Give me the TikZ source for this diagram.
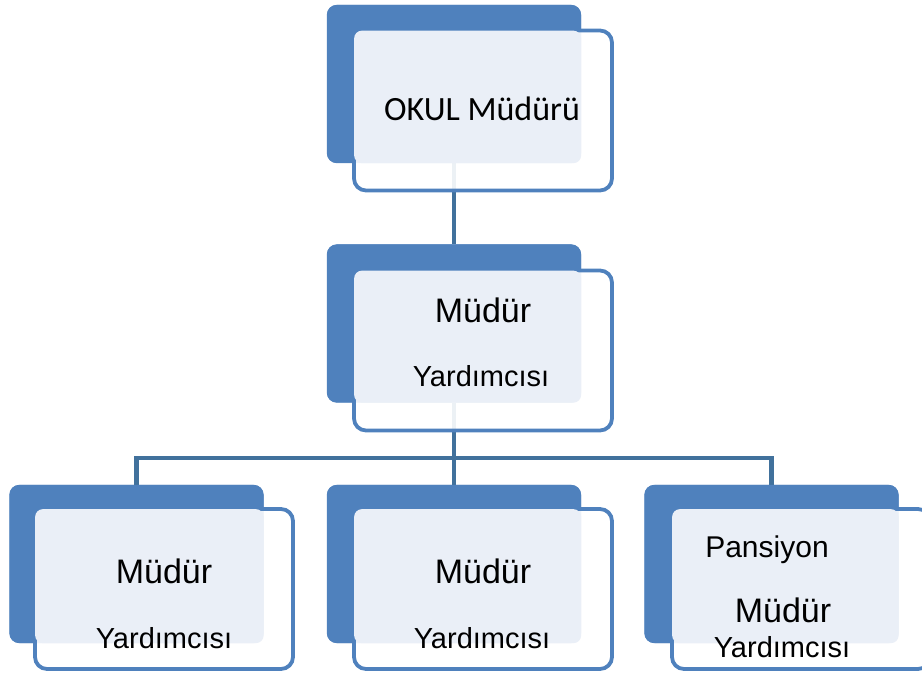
\documentclass[tikz,border=0pt]{standalone}
\usepackage{fontspec}
\setmainfont{Liberation Sans}
\newfontfamily\topfont{Carlito}
\usetikzlibrary{positioning,calc}
\definecolor{boxblue}{HTML}{4F81BD}
\definecolor{linkblue}{HTML}{41719C}
\definecolor{paleblue}{HTML}{EAEFF7}

\begin{document}
\begin{tikzpicture}[x=1pt,y=1pt,
  backbox/.style={fill=boxblue, rounded corners=10pt, minimum width=254pt, minimum height=158pt, inner sep=0pt},
  frontbox/.style={draw=boxblue, line width=3.8pt, fill=white, fill opacity=0.9, rounded corners=12pt, minimum width=258pt, minimum height=160pt, inner sep=0pt},
  link/.style={draw=linkblue, line width=4.5pt},
  boxtext/.style={anchor=base, inner sep=0pt, font=\fontsize{29}{34}\selectfont},
  bigtext/.style={boxtext, font=\fontsize{34}{40}\selectfont}]
\useasboundingbox (0,0) rectangle (922,673);

% Back boxes
\node[backbox] (topback) at (454,589) {};
\node[backbox] (midback) at (454,349.5) {};
\node[backbox] (leftback) at (136.5,109) {};
\node[backbox] (centerback) at (454,109) {};
\node[backbox] (rightback) at (771.5,109) {};

% Connectors
\coordinate (bus) at (454,215);
\draw[link] (topback.south) -- (midback.north);
\draw[link] (midback.south) -- (bus);
\draw[link] (leftback.north) |- (bus) -| (rightback.north);
\draw[link] (bus) -- (centerback.north);

% Back boxes again, over the connectors
\foreach \b in {topback,midback,leftback,centerback,rightback}
  \fill[boxblue, rounded corners=10pt] (\b.north west) rectangle (\b.south east);

% Front boxes
\node[frontbox] (topfront) at (483,562.5) {};
\node[frontbox] (midfront) at (483,322.5) {};
\node[frontbox] (leftfront) at (164,84) {};
\node[frontbox] (centerfront) at (483,84) {};
\node[frontbox] (rightfront) at (801,84) {};

% Pale overlap
\fill[paleblue, rounded corners=8pt] ($(topfront.north west)+(2,-2)$) rectangle (topback.south east);
\fill[paleblue, rounded corners=8pt] ($(midfront.north west)+(2,-2)$) rectangle (midback.south east);
\fill[paleblue, rounded corners=8pt] ($(leftfront.north west)+(2,-2)$) rectangle (leftback.south east);
\fill[paleblue, rounded corners=8pt] ($(centerfront.north west)+(2,-2)$) rectangle (centerback.south east);
\fill[paleblue, rounded corners=8pt] ($(rightfront.north west)+(2,-2)$) rectangle (rightback.south east);

% Texts
\node[boxtext, font=\topfont\fontsize{34}{40}\selectfont] (toptext) at (482,552) {OKUL Müdürü};
\node[bigtext] (midtexta) at (483,350) {Müdür};
\node[boxtext] (midtextb) at (481,286) {Yardımcısı};
\begin{scope}
\clip (0,25) rectangle (640,200);
\node[bigtext] (lefttexta) at (164,90) {Müdür};
\node[boxtext] (lefttextb) at (164,25) {Yardımcısı};
\node[bigtext] (centertexta) at (483,90) {Müdür};
\node[boxtext] (centertextb) at (482,25) {Yardımcısı};
\end{scope}
\begin{scope}
\clip (640,16) rectangle (922,200);
\node[boxtext, font=\fontsize{30}{36}\selectfont] (righttexta) at (767,116) {Pansiyon};
\node[bigtext] (righttextb) at (783,51) {Müdür};
\node[boxtext] (righttextc) at (782,16) {Yardımcısı};
\end{scope}
\end{tikzpicture}
\end{document}
